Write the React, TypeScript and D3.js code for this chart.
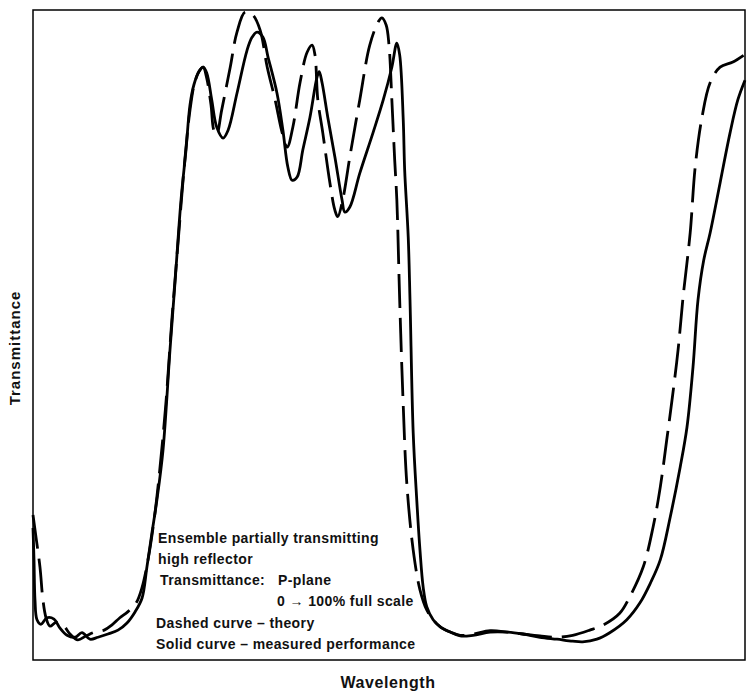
import React from "react";
import * as d3 from "d3";

// wavelength in relative units (0-100 across the frame), transmittance in %
const solidX = [
  0, 0.14, 0.28, 0.56, 1.12, 1.97, 2.95, 3.79, 4.78, 5.9, 6.88, 8.0, 9.13, 10.53, 11.94, 13.2, 14.33,
  15.31, 16.0, 16.7, 17.4, 18.26, 19.24, 19.94, 20.79, 21.49, 22.05, 22.6, 23.3, 23.9, 24.4, 25.1,
  25.8, 26.7, 27.4, 28.65, 30.06, 30.76, 31.46, 32.3, 33.0, 34.27, 35.1, 35.8, 36.4, 37.1, 37.9,
  38.9, 39.9, 40.2, 40.6, 41.4, 42.4, 43.4, 43.8, 44.5, 45.9, 47.75, 49.2, 50.4, 51.1, 51.5, 52.0,
  52.2, 52.7, 52.95, 53.4, 53.9, 54.35, 54.8, 55.3, 56.2, 57.2, 58.6, 60.0, 61.8, 64.2, 66.6, 68.8,
  71.2, 73.6, 75.8, 77.2, 79.2, 81.0, 83.4, 85.25, 86.7, 88.1, 89.5, 90.9, 91.85, 92.7, 93.4, 94.2,
  95.1, 96.5, 97.9, 99.0, 100,
];
const solidT = [
  20.3, 15.4, 9.2, 6.2, 5.5, 6.5, 6.3, 4.9, 3.8, 3.5, 4.2, 3.2, 3.5, 4.0, 4.6, 5.7, 7.4, 9.5, 14.3,
  19.5, 24.6, 32.3, 47.7, 58.0, 70.8, 78.5, 85.4, 88.5, 90.5, 91.2, 90.3, 86.2, 82.0, 80.3, 81.5,
  87.2, 93.8, 95.8, 96.6, 95.8, 92.8, 87.2, 81.5, 75.8, 73.8, 74.3, 78.5, 83.5, 89.7, 90.5, 88.8,
  83.5, 77.4, 70.8, 68.9, 69.7, 74.9, 81.1, 86.2, 91.2, 94.9, 93.1, 83.1, 75.4, 65.1, 55.4, 34.9,
  24.6, 16.9, 11.2, 8.2, 6.2, 5.1, 4.3, 3.7, 3.8, 4.3, 4.3, 4.0, 3.5, 3.2, 2.9, 2.8, 3.2, 4.2, 6.2,
  8.8, 11.8, 15.4, 22.0, 29.7, 35.8, 45.1, 55.4, 61.5, 65.7, 73.4, 81.1, 86.2, 89.2,
];

const dashX = [
  0, 0.42, 0.98, 1.4, 1.83, 2.39, 3.23, 4.2, 5.2, 6.3, 7.44, 8.7, 10.0, 11.1, 12.2, 13.3, 14.5, 15.3,
  16.15, 17.0, 17.8, 18.7, 19.5, 20.4, 21.2, 22.05, 22.75, 23.45, 23.9, 24.4, 25.0, 25.4, 25.8, 26.5,
  27.7, 28.65, 29.8, 30.9, 31.9, 32.9, 34.0, 35.0, 35.7, 36.5, 37.5, 38.5, 39.2, 39.6, 40.0, 40.7,
  41.7, 42.4, 42.8, 43.5, 44.5, 45.9, 47.3, 48.5, 49.0, 49.6, 50.0, 50.4, 50.8, 51.1, 51.5, 51.97,
  52.5, 53.4, 54.35, 55.3, 56.2, 57.2, 58.6, 60.0, 61.8, 64.2, 66.6, 68.8, 71.2, 73.6, 75.8, 78.2,
  80.1, 82.4, 83.8, 85.7, 87.1, 88.1, 89.0, 89.75, 90.6, 91.3, 92.3, 93.0, 93.96, 95.1, 96.5, 98.3,
  99.9,
];
const dashT = [
  22.3, 18.9, 14.3, 9.2, 6.5, 5.2, 5.8, 5.4, 4.0, 3.1, 3.7, 4.3, 4.6, 5.4, 6.5, 7.4, 8.8, 11.1, 15.4,
  21.5, 29.2, 40.0, 52.3, 64.6, 75.4, 84.6, 89.0, 90.8, 91.2, 89.5, 85.4, 81.5, 80.9, 84.6, 91.2,
  96.6, 99.7, 99.2, 96.9, 91.2, 86.2, 81.1, 78.9, 82.0, 88.8, 93.5, 94.6, 93.1, 86.2, 81.1, 73.4,
  69.2, 68.2, 70.8, 77.4, 86.2, 94.6, 98.2, 98.8, 97.7, 94.6, 86.2, 76.9, 70.8, 55.4, 40.0, 27.2,
  16.9, 10.8, 7.7, 6.2, 5.1, 4.3, 3.8, 4.0, 4.5, 4.3, 4.0, 3.7, 3.5, 3.8, 4.6, 5.4, 7.2, 9.7, 14.3,
  20.5, 26.6, 33.8, 40.0, 47.7, 55.8, 65.7, 75.8, 83.5, 88.8, 91.2, 92.0, 93.1,
];

// annotation block: [text, x, baseline]
const noteLines: [string, number, number][] = [
  ["Ensemble partially transmitting", 158, 543],
  ["high reflector", 158, 564],
  ["Transmittance:", 160, 585],
  ["P-plane", 278, 585],
  ["0 \u2192 100% full scale", 277, 606],
  ["Dashed curve \u2013 theory", 156, 628],
  ["Solid curve \u2013 measured performance", 156, 649],
];

const W = 749;
const H = 695;
const frame = { left: 33, right: 745, top: 10, bottom: 660 };

export default function App() {
  const x = d3.scaleLinear().domain([0, 100]).range([frame.left, frame.right]);
  const y = d3.scaleLinear().domain([0, 100]).range([frame.bottom, frame.top]);

  const line = d3
    .line<[number, number]>()
    .x((d) => x(d[0]))
    .y((d) => y(d[1]))
    .curve(d3.curveCatmullRom.alpha(0.5));

  const solid = solidX.map((v, i) => [v, solidT[i]] as [number, number]);
  const dashed = dashX.map((v, i) => [v, dashT[i]] as [number, number]);

  const font = "'Liberation Sans', Arial, sans-serif";

  return (
    <svg
      width={W}
      height={H}
      style={{ position: "absolute", left: 0, top: 0, background: "#fff" }}
    >
      <rect
        x={frame.left}
        y={frame.top}
        width={frame.right - frame.left}
        height={frame.bottom - frame.top}
        fill="none"
        stroke="#000"
        strokeWidth={1.5}
      />
      <path d={line(dashed) || ""} fill="none" stroke="#000" strokeWidth={2.8} strokeDasharray="34 10" />
      <path d={line(solid) || ""} fill="none" stroke="#000" strokeWidth={2.8} />

      {noteLines.map(([t, tx, ty], i) => (
        <text
          key={i}
          x={tx}
          y={ty}
          fontFamily={font}
          fontWeight="bold"
          fontSize={14}
          letterSpacing={0.4}
          fill="#111"
        >
          {t}
        </text>
      ))}

      <text
        x={388}
        y={688}
        textAnchor="middle"
        fontFamily={font}
        fontWeight="bold"
        fontSize={16}
        letterSpacing={0.6}
        fill="#111"
      >
        Wavelength
      </text>
      <text
        transform={`translate(20,348) rotate(-90)`}
        textAnchor="middle"
        fontFamily={font}
        fontWeight="bold"
        fontSize={15}
        letterSpacing={1}
        fill="#111"
      >
        Transmittance
      </text>
    </svg>
  );
}
